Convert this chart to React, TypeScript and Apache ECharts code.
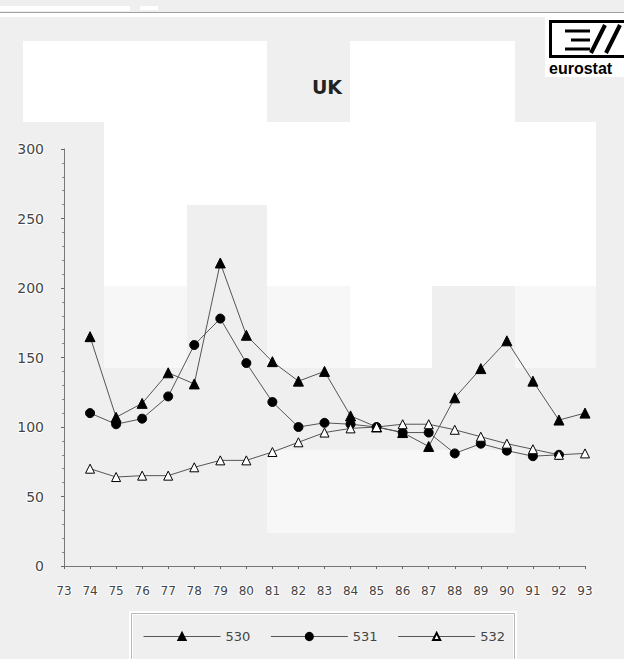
import React, { useEffect, useRef } from "react";
import * as echarts from "echarts";

const years = ["73","74","75","76","77","78","79","80","81","82","83","84","85","86","87","88","89","90","91","92","93"];
const s530 = [null,165,107,117,139,131,218,166,147,133,140,108,100,96,86,121,142,162,133,105,110];
const s531 = [null,110,102,106,122,159,178,146,118,100,103,102,100,96,96,81,88,83,79,80,null];
const s532 = [null,70,64,65,65,71,76,76,82,89,96,99,100,102,102,98,93,88,84,80,81];
const seriesNames = ["530","531","532"];
const title = "UK";

const WHITE = "#ffffff";
const LIGHT = "#f7f7f7";

function bgRect(x: number, y: number, w: number, h: number, fill: string) {
  return { type: "rect", z: -10, silent: true, shape: { x, y, width: w, height: h }, style: { fill } };
}

export default function App() {
  const ref = useRef<HTMLDivElement>(null);
  useEffect(() => {
    if (!ref.current) return;
    const chart = echarts.init(ref.current, undefined, { renderer: "svg" });
    const font = "DejaVu Sans";
    const lineColor = "#555";
    const mk = (name: string, data: any[], symbol: string, fill: string, size: number) => ({
      name,
      type: "line",
      data,
      symbol,
      symbolSize: size,
      showSymbol: true,
      connectNulls: false,
      lineStyle: { color: lineColor, width: 1 },
      itemStyle: { color: fill, borderColor: "#000", borderWidth: 1 },
      emphasis: { disabled: true },
      z: 3,
    });
    chart.setOption({
      animation: false,
      backgroundColor: "#efefef",
      textStyle: { fontFamily: font },
      title: {
        text: title,
        left: 322,
        top: 72,
        textAlign: "center",
        textStyle: { fontFamily: font, fontSize: 19, fontWeight: "bold", color: "#222" },
      },
      grid: { left: 64, right: 39, top: 149, bottom: 93, containLabel: false },
      legend: {
        data: seriesNames,
        left: 138,
        top: 625,
        itemWidth: 77,
        itemHeight: 9,
        itemGap: 20,
        lineStyle: { width: 1, color: "#555" },
        textStyle: { fontFamily: font, fontSize: 13, color: "#444" },
      },
      xAxis: {
        type: "category",
        data: years,
        boundaryGap: false,
        axisLine: { lineStyle: { color: "#777", width: 1 } },
        axisTick: { show: true, length: 3, lineStyle: { color: "#666" } },
        axisLabel: {
          color: "#444",
          fontSize: 12,
          fontFamily: font,
          margin: 19,
          interval: 0,
          textBorderColor: "#fff",
          textBorderWidth: 2,
        },
        splitLine: { show: false },
      },
      yAxis: {
        type: "value",
        min: 0,
        max: 300,
        interval: 50,
        axisLine: { show: true, lineStyle: { color: "#777", width: 1 } },
        axisTick: { show: true, length: 3, lineStyle: { color: "#666" } },
        minorTick: { show: true, splitNumber: 5, length: 2, lineStyle: { color: "#888" } },
        axisLabel: {
          color: "#444",
          fontSize: 14,
          fontFamily: font,
          margin: 20,
          textBorderColor: "#fff",
          textBorderWidth: 2,
        },
        splitLine: { show: false },
      },
      graphic: [
        // scanned-background blocks
        bgRect(23, 41, 244, 81, WHITE),
        bgRect(350, 41, 165, 81, WHITE),
        bgRect(104, 122, 83, 164, WHITE),
        bgRect(187, 122, 80, 83, WHITE),
        bgRect(267, 122, 329, 164, WHITE),
        bgRect(350, 286, 82, 82, WHITE),
        bgRect(104, 286, 83, 82, LIGHT),
        bgRect(267, 286, 83, 82, LIGHT),
        bgRect(515, 286, 81, 82, LIGHT),
        bgRect(267, 450, 248, 83, LIGHT),
        // top rule
        bgRect(0, 6, 130, 5, WHITE),
        bgRect(140, 6, 18, 4, WHITE),
        bgRect(0, 13, 624, 4, WHITE),
        { type: "line", z: -5, silent: true, shape: { x1: 0, y1: 12.5, x2: 624, y2: 12.5 }, style: { stroke: "#a0a0a0", lineWidth: 1 } },
        // legend frame
        { type: "rect", z: -5, silent: true, shape: { x: 131, y: 613, width: 384, height: 60 }, style: { fill: "none", stroke: "#ffffff", lineWidth: 4 } },
        { type: "rect", z: -4, silent: true, shape: { x: 131.5, y: 613.5, width: 383, height: 60 }, style: { fill: "none", stroke: "#b8b8b8", lineWidth: 1 } },
        // eurostat logo
        bgRect(545, 17, 79, 60, WHITE),
        { type: "rect", z: 5, silent: true, shape: { x: 550.5, y: 21.5, width: 80, height: 35 }, style: { fill: "none", stroke: "#000", lineWidth: 3 } },
        { type: "line", z: 5, silent: true, shape: { x1: 565, y1: 31, x2: 590, y2: 31 }, style: { stroke: "#000", lineWidth: 3 } },
        { type: "line", z: 5, silent: true, shape: { x1: 571, y1: 40, x2: 590, y2: 40 }, style: { stroke: "#000", lineWidth: 3 } },
        { type: "line", z: 5, silent: true, shape: { x1: 565, y1: 49, x2: 590, y2: 49 }, style: { stroke: "#000", lineWidth: 3 } },
        { type: "line", z: 5, silent: true, shape: { x1: 591, y1: 53, x2: 605, y2: 25 }, style: { stroke: "#000", lineWidth: 4 } },
        { type: "line", z: 5, silent: true, shape: { x1: 606, y1: 53, x2: 620, y2: 25 }, style: { stroke: "#000", lineWidth: 4 } },
        {
          type: "text",
          z: 5,
          silent: true,
          x: 549,
          y: 60,
          style: { text: "eurostat", fill: "#000", font: "bold 16px 'Liberation Sans'", textAlign: "left", textVerticalAlign: "top" },
        },
      ],
      series: [
        mk(seriesNames[0], s530, "triangle", "#000", 10),
        mk(seriesNames[1], s531, "circle", "#000", 9),
        mk(seriesNames[2], s532, "triangle", "#fff", 9),
      ],
    });
    return () => chart.dispose();
  }, []);
  return <div ref={ref} style={{ position: "fixed", left: 0, top: 0, width: 624, height: 659 }} />;
}
